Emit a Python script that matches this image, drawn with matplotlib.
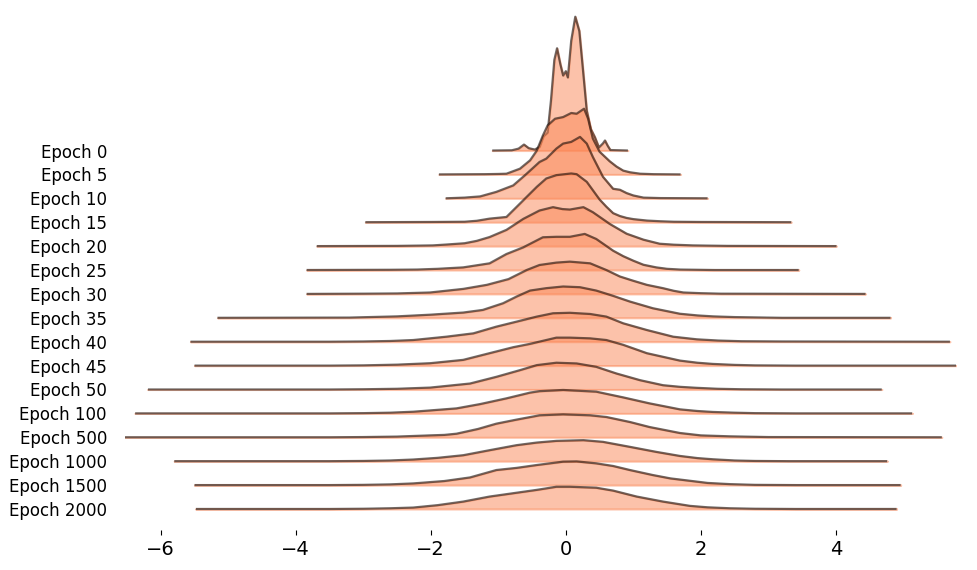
import matplotlib
matplotlib.use("Agg")
import matplotlib.pyplot as plt

# rotulos das linhas (de cima para baixo)
labels = ["Epoch 0", "Epoch 5", "Epoch 10", "Epoch 15", "Epoch 20", "Epoch 25",
          "Epoch 30", "Epoch 35", "Epoch 40", "Epoch 45", "Epoch 50", "Epoch 100",
          "Epoch 500", "Epoch 1000", "Epoch 1500", "Epoch 2000"]

# pontos: posicao x e altura da densidade (em alturas de linha)
curve_x = [
    [-1.09, -0.80, -0.70, -0.62, -0.55, -0.46, -0.39, -0.33, -0.27, -0.22, -0.17, -0.13, -0.08, -0.04,
     0.00, 0.03, 0.08, 0.14, 0.20, 0.25, 0.31, 0.37, 0.43, 0.49, 0.55, 0.58, 0.62, 0.66, 0.92],
    [-1.88, -1.20, -1.00, -0.88, -0.68, -0.53, -0.43, -0.34, -0.27, -0.16, -0.04, 0.08, 0.16, 0.27,
     0.33, 0.40, 0.50, 0.65, 0.75, 0.85, 0.95, 1.10, 1.30, 1.70],
    [-1.78, -1.50, -1.27, -1.03, -0.78, -0.58, -0.39, -0.29, -0.14, -0.04, 0.08, 0.21, 0.31, 0.40,
     0.55, 0.70, 0.80, 0.90, 1.00, 1.15, 1.40, 2.10],
    [-2.97, -2.00, -1.50, -1.32, -1.13, -0.88, -0.63, -0.43, -0.29, -0.14, 0.08, 0.16, 0.31, 0.50,
     0.60, 0.70, 0.80, 0.90, 1.00, 1.20, 1.40, 1.60, 2.00, 3.34],
    [-3.69, -2.50, -1.97, -1.75, -1.50, -1.32, -1.13, -0.88, -0.63, -0.39, -0.19, -0.05, 0.06, 0.26,
     0.40, 0.65, 0.90, 1.15, 1.39, 1.60, 1.88, 2.40, 4.01],
    [-3.84, -2.60, -2.20, -1.90, -1.52, -1.13, -0.88, -0.63, -0.34, -0.14, 0.06, 0.28, 0.45, 0.70,
     0.85, 1.00, 1.15, 1.34, 1.50, 1.69, 2.20, 3.45],
    [-3.84, -3.00, -2.50, -2.25, -2.01, -1.52, -1.17, -0.85, -0.58, -0.39, -0.14, 0.06, 0.36, 0.60,
     0.80, 1.00, 1.20, 1.44, 1.60, 1.74, 2.00, 2.30, 4.44],
    [-5.16, -3.20, -2.50, -2.01, -1.52, -1.23, -0.93, -0.73, -0.53, -0.29, -0.04, 0.21, 0.45, 0.70,
     0.95, 1.29, 1.69, 1.95, 2.18, 2.50, 3.20, 4.81],
    [-5.56, -3.50, -3.00, -2.60, -2.26, -1.77, -1.37, -1.03, -0.73, -0.43, -0.19, 0.06, 0.36, 0.60,
     0.85, 1.20, 1.59, 1.94, 2.25, 2.60, 3.20, 5.69],
    [-5.50, -3.50, -3.00, -2.50, -2.01, -1.52, -1.13, -0.78, -0.53, -0.29, -0.14, 0.06, 0.36, 0.60,
     0.85, 1.20, 1.69, 1.95, 2.18, 2.50, 2.80, 3.40, 5.78],
    [-6.19, -3.50, -3.00, -2.50, -2.01, -1.42, -1.03, -0.68, -0.43, -0.14, 0.16, 0.45, 0.75, 1.10,
     1.44, 1.70, 1.94, 2.25, 2.60, 3.20, 4.68],
    [-6.38, -3.50, -3.00, -2.60, -2.26, -1.62, -1.27, -0.88, -0.53, -0.39, -0.04, 0.45, 0.85, 1.24,
     1.69, 1.95, 2.18, 2.50, 2.80, 3.40, 5.13],
    [-6.53, -3.50, -3.00, -2.50, -2.01, -1.80, -1.62, -1.30, -1.03, -0.73, -0.39, -0.04, 0.36, 0.60,
     0.95, 1.24, 1.69, 2.00, 2.43, 3.00, 5.57],
    [-5.80, -3.50, -3.00, -2.60, -2.26, -1.90, -1.52, -1.13, -0.73, -0.43, -0.14, 0.26, 0.55, 0.95,
     1.34, 1.69, 1.95, 2.18, 2.50, 2.80, 3.30, 4.76],
    [-5.50, -3.50, -3.00, -2.60, -2.26, -1.80, -1.42, -1.03, -0.73, -0.43, -0.04, 0.16, 0.45, 0.70,
     0.95, 1.29, 1.55, 1.84, 2.10, 2.43, 2.80, 3.40, 4.96],
    [-5.48, -3.50, -3.00, -2.60, -2.26, -1.90, -1.52, -1.13, -0.73, -0.43, -0.14, 0.06, 0.45, 0.70,
     1.05, 1.44, 1.84, 2.10, 2.43, 2.80, 3.40, 4.90],
]
curve_h = [
    [0, 0.01, 0.08, 0.25, 0.10, 0.04, 0.15, 0.60, 0.75, 2.10, 3.80, 4.28, 3.60, 3.14,
     3.32, 3.06, 4.60, 5.60, 5.00, 3.50, 1.67, 0.90, 0.56, 0.13, 0.30, 0.42, 0.20, 0.02, 0],
    [0, 0.01, 0.02, 0.03, 0.24, 0.59, 1.00, 1.63, 2.05, 2.33, 2.40, 2.57, 2.54, 2.75,
     2.33, 1.50, 0.95, 0.55, 0.33, 0.16, 0.09, 0.03, 0.01, 0],
    [0, 0.03, 0.08, 0.27, 0.54, 1.03, 1.52, 1.66, 2.08, 2.29, 2.36, 2.57, 2.29, 1.73,
     0.90, 0.40, 0.36, 0.22, 0.12, 0.03, 0.01, 0],
    [0, 0.01, 0.02, 0.06, 0.15, 0.22, 0.92, 1.48, 1.83, 1.97, 2.04, 2.01, 1.69, 0.95,
     0.65, 0.38, 0.26, 0.18, 0.13, 0.07, 0.04, 0.02, 0.01, 0],
    [0, 0.01, 0.03, 0.07, 0.12, 0.22, 0.38, 0.68, 1.14, 1.49, 1.63, 1.55, 1.53, 1.63,
     1.42, 0.93, 0.52, 0.27, 0.10, 0.06, 0.03, 0.01, 0],
    [0, 0.01, 0.02, 0.05, 0.11, 0.28, 0.67, 0.95, 1.37, 1.39, 1.39, 1.51, 1.30, 0.81,
     0.58, 0.39, 0.22, 0.11, 0.05, 0.02, 0.00, 0],
    [0, 0.01, 0.02, 0.04, 0.06, 0.21, 0.38, 0.62, 1.00, 1.21, 1.31, 1.35, 1.28, 1.00,
     0.73, 0.55, 0.38, 0.24, 0.13, 0.06, 0.03, 0.01, 0],
    [0, 0.01, 0.06, 0.13, 0.22, 0.33, 0.61, 0.89, 1.14, 1.24, 1.31, 1.28, 1.14, 0.92,
     0.68, 0.40, 0.17, 0.10, 0.06, 0.03, 0.00, 0],
    [0, 0.00, 0.01, 0.03, 0.07, 0.21, 0.35, 0.63, 0.84, 1.05, 1.19, 1.21, 1.16, 1.05,
     0.77, 0.49, 0.21, 0.10, 0.05, 0.02, 0.01, 0],
    [0, 0.00, 0.01, 0.04, 0.10, 0.24, 0.52, 0.77, 0.91, 1.07, 1.17, 1.17, 1.14, 1.07,
     0.87, 0.52, 0.21, 0.12, 0.07, 0.03, 0.01, 0.00, 0],
    [0, 0.00, 0.01, 0.03, 0.08, 0.25, 0.53, 0.81, 1.02, 1.12, 1.09, 0.95, 0.67, 0.39,
     0.18, 0.11, 0.07, 0.03, 0.01, 0.00, 0],
    [0, 0.00, 0.01, 0.03, 0.07, 0.21, 0.39, 0.63, 0.87, 0.93, 0.98, 0.91, 0.67, 0.42,
     0.17, 0.10, 0.06, 0.03, 0.01, 0.00, 0],
    [0, 0.00, 0.01, 0.03, 0.08, 0.10, 0.15, 0.35, 0.57, 0.74, 0.92, 0.96, 0.92, 0.85,
     0.64, 0.43, 0.18, 0.08, 0.04, 0.01, 0],
    [0, 0.00, 0.01, 0.03, 0.07, 0.14, 0.25, 0.46, 0.67, 0.78, 0.85, 0.88, 0.81, 0.60,
     0.39, 0.22, 0.13, 0.08, 0.03, 0.01, 0.00, 0],
    [0, 0.00, 0.01, 0.03, 0.07, 0.17, 0.32, 0.63, 0.72, 0.84, 0.98, 0.99, 0.91, 0.80,
     0.63, 0.42, 0.28, 0.18, 0.09, 0.04, 0.01, 0.00, 0],
    [0, 0.00, 0.01, 0.03, 0.06, 0.16, 0.31, 0.52, 0.68, 0.80, 0.93, 0.93, 0.89, 0.77,
     0.52, 0.31, 0.13, 0.07, 0.03, 0.01, 0.00, 0],
]

fill_color = "#fb8756"
n = len(labels)

fig = plt.figure(figsize=(9.77, 5.7), dpi=100)
ax = fig.add_axes([125 / 977, 40 / 570, 831 / 977, 520 / 570])

# cada linha desenhada por cima da anterior, como no joyplot
for i in range(n):
    base = n - 1 - i
    xs = curve_x[i]
    ys = [base + h for h in curve_h[i]]
    ax.fill_between(xs, base, ys, color=fill_color, alpha=0.5, lw=1.5, zorder=2 * i + 1)
    ax.plot(xs, ys, color="k", alpha=0.55, lw=1.6, zorder=2 * i + 2,
            solid_joinstyle="round", solid_capstyle="butt")

xmin = min(c[0] for c in curve_x)
xmax = max(c[-1] for c in curve_x)
ax.set_xlim(xmin, xmax)
ax.set_ylim(-0.88, 20.88)

ax.set_yticks([n - 1 - i for i in range(n)])
ax.set_yticklabels(labels, fontsize=12)
ax.tick_params(axis="y", length=0, pad=13)
ax.set_xticks([-6, -4, -2, 0, 2, 4])
ax.tick_params(axis="x", labelsize=14)
for s in ax.spines.values():
    s.set_visible(False)

plt.savefig("out.png", dpi=100)
